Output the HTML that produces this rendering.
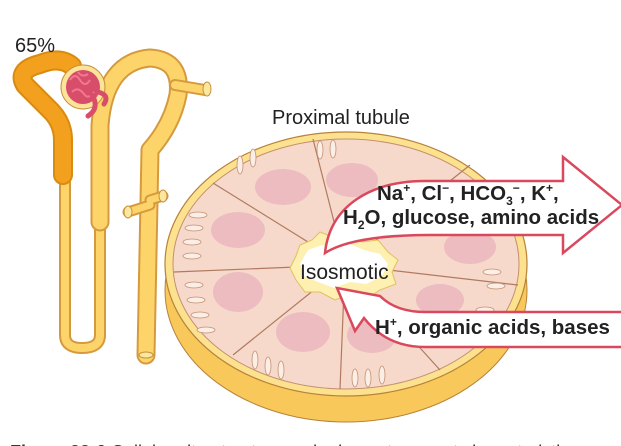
<!DOCTYPE html>
<html><head><meta charset="utf-8"><style>
html,body{margin:0;padding:0;background:#fff;}
body{width:621px;height:446px;overflow:hidden;position:relative;font-family:"Liberation Sans",sans-serif;}
</style></head><body>
<svg width="621" height="446" viewBox="0 0 621 446" xmlns="http://www.w3.org/2000/svg" style="position:absolute;left:0;top:0">
<g fill="none" stroke-linecap="round" stroke-linejoin="round">
  <path d="M65 175 L65 335 Q65 348 82 348 Q100 348 100 335 L100 215" stroke="#d69a3e" stroke-width="12"/>
  <path d="M65 175 L65 335 Q65 348 82 348 Q100 348 100 335 L100 215" stroke="#fcd46a" stroke-width="8"/>
  <path d="M100 222 L100 125 Q105 62 150 58 Q182 60 178 95 Q172 125 150 150 L146 355" stroke="#d69a3e" stroke-width="19"/>
  <path d="M100 222 L100 125 Q105 62 150 58 Q182 60 178 95 Q172 125 150 150 L146 355" stroke="#fcd46a" stroke-width="15"/>
  <path d="M175 85 L205 90" stroke="#d69a3e" stroke-width="12"/>
  <path d="M175 85 L205 90" stroke="#fcd46a" stroke-width="8"/>
  <path d="M150 205 L128 212 M150 200 L163 196" stroke="#d69a3e" stroke-width="11"/>
  <path d="M150 205 L128 212 M150 200 L163 196" stroke="#fcd46a" stroke-width="7"/>
  <path d="M72 66 Q60 56 40 64 Q16 70 25 85 L52 112 Q63 124 63 140 L63 175" stroke="#d98a10" stroke-width="20"/>
  <path d="M72 66 Q60 56 40 64 Q16 70 25 85 L52 112 Q63 124 63 140 L63 175" stroke="#f2a01e" stroke-width="16"/>
</g>
<ellipse cx="207" cy="89" rx="4" ry="7" fill="#fce7a0" stroke="#c8903a"/>
<ellipse cx="128" cy="212" rx="4" ry="6" fill="#fce7a0" stroke="#c8903a"/>
<ellipse cx="163" cy="196" rx="4" ry="6" fill="#fce7a0" stroke="#c8903a"/>
<ellipse cx="146" cy="355" rx="7" ry="3" fill="#fce7a0" stroke="#c8903a"/>
<circle cx="83" cy="87" r="22" fill="#fbe39a" stroke="#c8903a"/>
<circle cx="83" cy="87" r="17" fill="#d84d6a"/>
<g fill="none" stroke="#f07890" stroke-width="2">
<path d="M70 80 q5 -8 10 0 q5 8 10 0 M72 92 q6 -6 12 2 q4 6 10 -2 M78 72 q4 6 10 2"/>
</g>
<path d="M92 95 Q100 108 88 116" fill="none" stroke="#d84d6a" stroke-width="5" stroke-linecap="round"/>
<path d="M98 92 Q110 95 104 104" fill="none" stroke="#d84d6a" stroke-width="5" stroke-linecap="round"/>

<ellipse cx="346" cy="290" rx="181" ry="132" fill="#f8c85a" stroke="#b8823a"/>
<ellipse cx="346" cy="264" rx="181" ry="132" fill="#fce28e" stroke="#b8823a" stroke-width="1.2"/>
<ellipse cx="346" cy="264" rx="173" ry="125" fill="#f7d9cb" stroke="#c49070"/>
<g stroke="#b07a60" stroke-width="1.2">
<line x1="345" y1="265" x2="313" y2="139"/>
<line x1="345" y1="265" x2="213" y2="183"/>
<line x1="345" y1="265" x2="174" y2="272"/>
<line x1="345" y1="265" x2="233" y2="355"/>
<line x1="345" y1="265" x2="340" y2="389"/>
<line x1="345" y1="265" x2="440" y2="370"/>
<line x1="345" y1="265" x2="518" y2="285"/>
<line x1="345" y1="265" x2="470" y2="165"/>
</g>
<g fill="#ecbcc0">
<ellipse cx="283" cy="187" rx="28" ry="18"/>
<ellipse cx="352" cy="180" rx="26" ry="17"/>
<ellipse cx="238" cy="230" rx="27" ry="18"/>
<ellipse cx="238" cy="292" rx="25" ry="20"/>
<ellipse cx="303" cy="332" rx="27" ry="20"/>
<ellipse cx="372" cy="335" rx="25" ry="18"/>
<ellipse cx="470" cy="247" rx="26" ry="17"/>
<ellipse cx="440" cy="300" rx="24" ry="16"/>
</g>
<g fill="#fbeee6" stroke="#c49070" stroke-width="0.8">
<ellipse cx="198" cy="215" rx="9" ry="3"/><ellipse cx="194" cy="228" rx="9" ry="3"/><ellipse cx="192" cy="242" rx="9" ry="3"/><ellipse cx="192" cy="256" rx="9" ry="3"/>
<ellipse cx="194" cy="285" rx="9" ry="3"/><ellipse cx="196" cy="300" rx="9" ry="3"/><ellipse cx="200" cy="315" rx="9" ry="3"/><ellipse cx="206" cy="330" rx="9" ry="3"/>
<ellipse cx="255" cy="360" rx="3" ry="9"/><ellipse cx="268" cy="366" rx="3" ry="9"/><ellipse cx="281" cy="370" rx="3" ry="9"/>
<ellipse cx="355" cy="378" rx="3" ry="9"/><ellipse cx="368" cy="378" rx="3" ry="9"/><ellipse cx="382" cy="375" rx="3" ry="9"/>
<ellipse cx="240" cy="165" rx="3" ry="9"/><ellipse cx="253" cy="158" rx="3" ry="9"/><ellipse cx="320" cy="150" rx="3" ry="9"/><ellipse cx="333" cy="149" rx="3" ry="9"/>
<ellipse cx="492" cy="272" rx="9" ry="3"/><ellipse cx="496" cy="286" rx="9" ry="3"/><ellipse cx="485" cy="310" rx="9" ry="3"/>
</g>
<path d="M300 245 L312 240 L320 232 L335 238 L350 232 L362 242 L378 240 L388 252 L398 260 L392 272 L396 284 L380 290 L368 298 L350 294 L335 300 L320 292 L305 292 L296 280 L290 268 L296 256 Z" fill="#fdf0b0" stroke="#e0c060"/>
<path d="M308 250 L322 245 L336 248 L350 244 L364 250 L380 254 L388 264 L382 276 L366 284 L350 282 L334 288 L318 282 L304 276 L300 264 Z" fill="#fff"/>

<path d="M325 253 C330 205 372 181 425 181 L563 181 L563 157 L622 205 L563 253 L563 235 L430 235 C385 235 345 240 325 253 Z" fill="#fff" stroke="#d9485c" stroke-width="2.5" stroke-linejoin="miter"/>
<path d="M625 312 L425 312 C405 312 390 306 380 296 L337 288 L355 331 L364 318 C378 336 398 347 425 347 L625 347 Z" fill="#fff" stroke="#d9485c" stroke-width="2.5"/>

<text x="15" y="52" font-size="20" fill="#222" font-family="Liberation Sans, sans-serif">65%</text>
<text x="272" y="124" font-size="20" fill="#222" font-family="Liberation Sans, sans-serif">Proximal tubule</text>
<text x="300" y="279" font-size="21" fill="#222" font-family="Liberation Sans, sans-serif">Isosmotic</text>
<g font-family="Liberation Sans, sans-serif" font-weight="bold" font-size="20.5" fill="#222">
<text x="377" y="200">Na<tspan font-size="12" dy="-8">+</tspan><tspan dy="8">, Cl</tspan><tspan font-size="12" dy="-8">−</tspan><tspan dy="8">, HCO</tspan><tspan font-size="12" dy="5">3</tspan><tspan font-size="12" dy="-13">−</tspan><tspan dy="8">, K</tspan><tspan font-size="12" dy="-8">+</tspan><tspan dy="8">,</tspan></text>
<text x="343" y="224">H<tspan font-size="12" dy="5">2</tspan><tspan dy="-5">O, glucose, amino acids</tspan></text>
<text x="375" y="334">H<tspan font-size="12" dy="-8">+</tspan><tspan dy="8">, organic acids, bases</tspan></text>
</g>
<text x="10" y="458" font-size="18" fill="#333" font-family="Liberation Sans, sans-serif"><tspan font-weight="bold">Figure 33-6</tspan>  Cellular ultrastructure and primary transport characteristics</text>
</svg>
</body></html>
